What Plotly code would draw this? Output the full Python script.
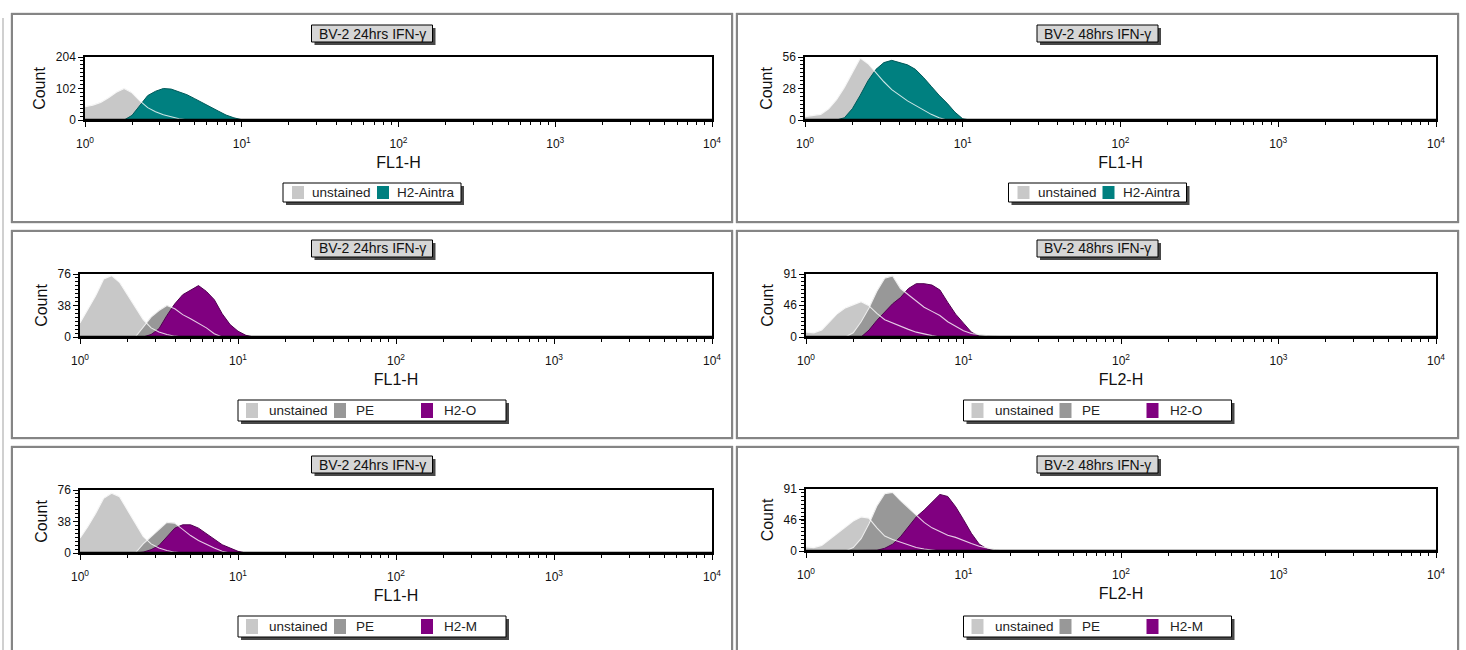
import plotly.graph_objects as go

W, H = 1466, 650

# ---------------- data ----------------
# histogram channel bins (fluorescence intensity, log-spaced)
FL = [1.000, 1.122, 1.259, 1.413, 1.585, 1.778, 1.995, 2.239, 2.512, 2.818,
      3.162, 3.548, 3.981, 4.467, 5.012, 5.623, 6.310, 7.079, 7.943, 8.913,
      10.00, 11.22, 12.59, 14.13, 15.85, 17.78, 19.95]

# 24 hrs, FL1-H, H2-Aintra
P1_UNSTAINED = [43, 48, 57, 72, 90, 102, 88, 62, 40, 27, 17, 10, 4, 1, 0,
                0, 0, 0, 0, 0, 0, 0, 0, 0, 0, 0, 0]
P1_H2AINTRA = [0, 0, 0, 0, 0, 0, 15, 48, 79, 93, 102, 100, 92, 82, 69,
               55, 43, 29, 16, 7, 1, 0, 0, 0, 0, 0, 0]
# 48 hrs, FL1-H, H2-Aintra
P2_UNSTAINED = [3, 4, 5, 10, 18, 29, 42, 55, 50, 42, 34, 27, 22, 17, 13,
                9, 5, 2, 0, 0, 0, 0, 0, 0, 0, 0, 0]
P2_H2AINTRA = [0, 0, 0, 0, 0, 2, 10, 22, 35, 45, 51, 53, 51, 49, 45,
               38, 30, 22, 15, 7, 1, 0, 0, 0, 0, 0, 0]
# 24 hrs, FL1-H, H2-O
P3_UNSTAINED = [17, 33, 50, 70, 74, 66, 51, 36, 21, 11, 6, 3, 1, 0, 0,
                0, 0, 0, 0, 0, 0, 0, 0, 0, 0, 0, 0]
P3_PE = [0, 0, 0, 0, 0, 0, 0, 0, 12, 24, 32, 38, 34, 27, 22,
         17, 11, 4, 0, 0, 0, 0, 0, 0, 0, 0, 0]
P3_H2O = [0, 0, 0, 0, 0, 0, 0, 0, 0, 3, 10, 26, 40, 51, 57,
          62, 55, 45, 28, 15, 7, 2, 0, 0, 0, 0, 0]
# 48 hrs, FL2-H, H2-O
P4_UNSTAINED = [7, 6, 10, 22, 34, 42, 47, 51, 45, 34, 25, 20, 16, 11, 7,
                4, 2, 0, 0, 0, 0, 0, 0, 0, 0, 0, 0]
P4_PE = [0, 0, 0, 0, 0, 0, 6, 22, 42, 66, 85, 88, 70, 61, 52,
         43, 37, 31, 22, 15, 9, 5, 3, 2, 1, 0, 0]
P4_H2O = [0, 0, 0, 0, 0, 0, 0, 0, 10, 24, 36, 48, 57, 70, 77,
          77, 75, 68, 50, 33, 20, 7, 1, 0, 0, 0, 0]
# 24 hrs, FL1-H, H2-M
P5_UNSTAINED = [18, 32, 48, 66, 72, 68, 52, 36, 20, 11, 6, 3, 1, 0, 0,
                0, 0, 0, 0, 0, 0, 0, 0, 0, 0, 0, 0]
P5_PE = [0, 0, 0, 0, 0, 0, 0, 0, 11, 20, 29, 37, 36, 28, 21,
         15, 10, 6, 2, 0, 0, 0, 0, 0, 0, 0, 0]
P5_H2M = [0, 0, 0, 0, 0, 0, 0, 0, 1, 4, 9, 19, 30, 34, 34,
          30, 23, 16, 10, 6, 2, 0, 0, 0, 0, 0, 0]
# 48 hrs, FL2-H, H2-M
P6_UNSTAINED = [6, 5, 8, 17, 26, 35, 44, 50, 48, 34, 22, 17, 13, 8, 5,
                3, 1, 0, 0, 0, 0, 0, 0, 0, 0, 0, 0]
P6_PE = [0, 0, 0, 0, 0, 0, 5, 18, 40, 66, 84, 86, 74, 63, 53,
         42, 34, 28, 23, 20, 15, 11, 7, 4, 2, 0, 0]
P6_H2M = [0, 0, 0, 0, 0, 0, 0, 0, 0, 1, 4, 10, 21, 36, 50,
          60, 71, 83, 80, 65, 46, 26, 10, 3, 0, 0, 0]

X_TICKS = [1, 10, 100, 1000, 10000]
X_TICKTEXT = ["10<sup>0</sup>", "10<sup>1</sup>", "10<sup>2</sup>",
              "10<sup>3</sup>", "10<sup>4</sup>"]

# ---------------- styles ----------------
LIGHT = "rgb(200,200,200)"
DARK = "rgb(152,152,152)"
TEAL = "rgb(0,128,128)"
TEAL_EDGE = "rgb(0,90,90)"
PURPLE = "rgb(128,0,128)"
PURPLE_EDGE = "rgb(80,0,80)"
FONT = "Liberation Sans, Arial, sans-serif"

panels = [
    dict(title="BV-2 24hrs IFN-γ", xt="FL1-H", ymax=204,
         series=[("unstained", P1_UNSTAINED, LIGHT, None),
                 ("H2-Aintra", P1_H2AINTRA, TEAL, TEAL_EDGE)],
         plot=(85, 57, 712, 120), frame=(12, 14, 732, 222), ty=(25, 42), ly=(183, 202),
         lw=178, items=[9, 27, 94, 112]),
    dict(title="BV-2 48hrs IFN-γ", xt="FL1-H", ymax=56,
         series=[("unstained", P2_UNSTAINED, LIGHT, None),
                 ("H2-Aintra", P2_H2AINTRA, TEAL, TEAL_EDGE)],
         plot=(805, 57, 1436, 120), frame=(737, 14, 1458, 222), ty=(25, 42), ly=(183, 202),
         lw=178, items=[9, 27, 94, 112]),
    dict(title="BV-2 24hrs IFN-γ", xt="FL1-H", ymax=76,
         series=[("unstained", P3_UNSTAINED, LIGHT, None),
                 ("PE", P3_PE, DARK, None),
                 ("H2-O", P3_H2O, PURPLE, PURPLE_EDGE)],
         plot=(80, 274, 712, 337), frame=(12, 231, 732, 438), ty=(240, 257), ly=(400, 421),
         lw=268, items=[8, 29, 96, 116, 183, 204]),
    dict(title="BV-2 48hrs IFN-γ", xt="FL2-H", ymax=91,
         series=[("unstained", P4_UNSTAINED, LIGHT, None),
                 ("PE", P4_PE, DARK, None),
                 ("H2-O", P4_H2O, PURPLE, PURPLE_EDGE)],
         plot=(806, 274, 1436, 337), frame=(737, 231, 1458, 438), ty=(240, 257), ly=(400, 421),
         lw=268, items=[8, 29, 96, 116, 183, 204]),
    dict(title="BV-2 24hrs IFN-γ", xt="FL1-H", ymax=76,
         series=[("unstained", P5_UNSTAINED, LIGHT, None),
                 ("PE", P5_PE, DARK, None),
                 ("H2-M", P5_H2M, PURPLE, PURPLE_EDGE)],
         plot=(80, 490, 712, 553), frame=(12, 447, 732, 662), ty=(456, 473), ly=(616, 637),
         lw=268, items=[8, 29, 96, 116, 183, 204]),
    dict(title="BV-2 48hrs IFN-γ", xt="FL2-H", ymax=91,
         series=[("unstained", P6_UNSTAINED, LIGHT, None),
                 ("PE", P6_PE, DARK, None),
                 ("H2-M", P6_H2M, PURPLE, PURPLE_EDGE)],
         plot=(806, 489, 1436, 551), frame=(737, 447, 1458, 662), ty=(456, 473), ly=(616, 637),
         lw=268, items=[8, 29, 96, 116, 183, 204]),
]


def fx(p):
    return p / W


def fy(p):
    return 1 - p / H


fig = go.Figure()
shapes = []
annotations = []
layout = {}

minor_x = [m * d for d in (1, 10, 100, 1000) for m in range(2, 10)]

for i, p in enumerate(panels, start=1):
    xa = "x" if i == 1 else f"x{i}"
    ya = "y" if i == 1 else f"y{i}"
    xk = "xaxis" if i == 1 else f"xaxis{i}"
    yk = "yaxis" if i == 1 else f"yaxis{i}"
    x0, y0, x1, y1 = p["plot"]

    # fills
    for name, vals, col, edge in p["series"]:
        fig.add_trace(go.Scatter(
            x=FL, y=vals, mode="lines", fill="tozeroy", fillcolor=col,
            line=dict(color=edge or col, width=1 if edge else 0.5),
            name=name, showlegend=False, xaxis=xa, yaxis=ya, hoverinfo="skip"))
    # white outlines of the lower layers drawn over the overlay
    for name, vals, col, edge in p["series"][:-1]:
        fig.add_trace(go.Scatter(
            x=FL, y=vals, mode="lines",
            line=dict(color="rgba(255,255,255,0.8)", width=1.1),
            showlegend=False, xaxis=xa, yaxis=ya, hoverinfo="skip"))

    ymax = p["ymax"]
    layout[xk] = dict(
        type="log", range=[0, 4], domain=[fx(x0), fx(x1)], anchor=ya,
        automargin=False,
        tickmode="array", tickvals=X_TICKS, ticktext=X_TICKTEXT,
        ticks="outside", ticklen=5, tickwidth=1.3, tickcolor="black",
        ticklabelstandoff=7,
        minor=dict(tickmode="array", tickvals=minor_x, ticks="outside",
                   ticklen=3, tickwidth=1, tickcolor="black"),
        showline=True, mirror=True, linecolor="black", linewidth=1.5,
        showgrid=False, zeroline=False,
        tickfont=dict(family=FONT, size=12, color="#111"),
        title=dict(text=p["xt"], standoff=7,
                   font=dict(family=FONT, size=16, color="#111")),
    )
    layout[yk] = dict(
        range=[0, ymax], domain=[fy(y1), fy(y0)], anchor=xa,
        automargin=False,
        tickmode="array", tickvals=[0, round(ymax / 2), ymax],
        ticks="outside", ticklen=5, tickwidth=1.3, tickcolor="black",
        minor=dict(dtick=ymax / 16, ticks="outside", ticklen=3,
                   tickwidth=1, tickcolor="black"),
        showline=True, mirror=True, linecolor="black", linewidth=1.5,
        showgrid=False, zeroline=False,
        tickfont=dict(family=FONT, size=12, color="#111"),
        title=dict(text="Count", standoff=6,
                   font=dict(family=FONT, size=16, color="#111")),
    )
    # thick baseline
    shapes.append(dict(type="line", xref=f"{xa} domain", yref=f"{ya} domain",
                       x0=0, x1=1, y0=0, y1=0, line=dict(color="black", width=2.5),
                       layer="above"))

    # panel frame
    fx0, fy0, fx1, fy1 = p["frame"]
    shapes.append(dict(type="rect", xref="paper", yref="paper",
                       x0=fx(fx0 - 1), x1=fx(fx1 + 1), y0=fy(fy0 - 1), y1=fy(fy1 + 1),
                       line=dict(color="#d0d0d0", width=1), layer="below"))
    shapes.append(dict(type="rect", xref="paper", yref="paper",
                       x0=fx(fx0), x1=fx(fx1), y0=fy(fy0), y1=fy(fy1),
                       line=dict(color="#858585", width=2), layer="below"))

    cx = (fx0 + fx1) / 2
    # title box with shadow
    tw = 121
    ty0, ty1 = p["ty"]
    shapes.append(dict(type="rect", xref="paper", yref="paper",
                       x0=fx(cx - tw / 2 + 3), x1=fx(cx + tw / 2 + 3),
                       y0=fy(ty0 + 3), y1=fy(ty1 + 3),
                       fillcolor="rgba(40,40,40,0.85)", line=dict(width=0)))
    shapes.append(dict(type="rect", xref="paper", yref="paper",
                       x0=fx(cx - tw / 2), x1=fx(cx + tw / 2),
                       y0=fy(ty0), y1=fy(ty1),
                       fillcolor="rgb(214,214,214)", line=dict(color="black", width=1)))
    annotations.append(dict(xref="paper", yref="paper", x=fx(cx), y=fy((ty0 + ty1) / 2),
                            text=p["title"], showarrow=False, xanchor="center",
                            yanchor="middle",
                            font=dict(family=FONT, size=14, color="#111")))

    # legend box with shadow
    lw = p["lw"]
    ly0, ly1 = p["ly"]
    lx0 = cx - lw / 2
    shapes.append(dict(type="rect", xref="paper", yref="paper",
                       x0=fx(lx0 + 3), x1=fx(lx0 + lw + 3),
                       y0=fy(ly0 + 3), y1=fy(ly1 + 3),
                       fillcolor="rgba(40,40,40,0.85)", line=dict(width=0)))
    shapes.append(dict(type="rect", xref="paper", yref="paper",
                       x0=fx(lx0), x1=fx(lx0 + lw), y0=fy(ly0), y1=fy(ly1),
                       fillcolor="white", line=dict(color="black", width=1)))
    items = p["items"]
    for k, (name, vals, col, edge) in enumerate(p["series"]):
        sx = lx0 + items[2 * k]
        tx = lx0 + items[2 * k + 1]
        shapes.append(dict(type="rect", xref="paper", yref="paper",
                           x0=fx(sx), x1=fx(sx + 12), y0=fy(ly0 + 3), y1=fy(ly1 - 3),
                           fillcolor=col, line=dict(width=0)))
        annotations.append(dict(xref="paper", yref="paper", x=fx(tx),
                                y=fy((ly0 + ly1) / 2), text=name, showarrow=False,
                                xanchor="left", yanchor="middle",
                                font=dict(family=FONT, size=13.5, color="#222")))

# outer thin border at far left
shapes.append(dict(type="line", xref="paper", yref="paper",
                   x0=fx(3), x1=fx(3), y0=fy(18), y1=fy(650),
                   line=dict(color="#c0c0c0", width=1.5)))

fig.update_layout(
    width=W, height=H,
    margin=dict(l=0, r=0, t=0, b=0, pad=0, autoexpand=False),
    paper_bgcolor="white", plot_bgcolor="white",
    showlegend=False, shapes=shapes, annotations=annotations,
    **layout,
)

fig.write_html(
    "out.html",
    config={"displayModeBar": False},
    post_script="document.body.style.margin='0';document.body.style.overflow='hidden';",
)
